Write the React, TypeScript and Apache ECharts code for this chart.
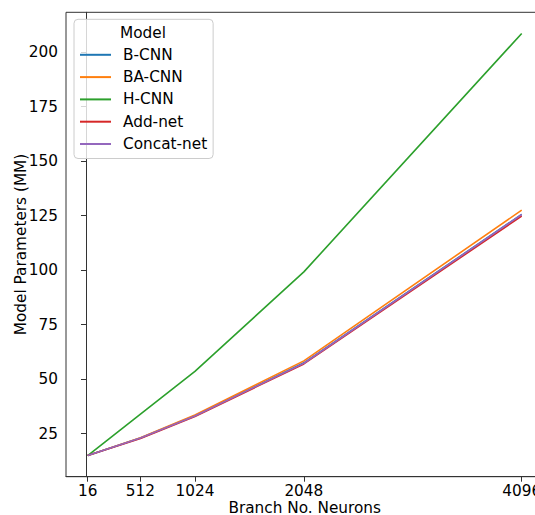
import React, { useEffect, useRef } from "react";
import * as echarts from "echarts";

const neurons = [16, 512, 1024, 2048, 4096];
const seriesNames = ["B-CNN", "BA-CNN", "H-CNN", "Add-net", "Concat-net"];
const bCnn = [15, 23, 33.2, 57.5, 125.6];
const baCnn = [15, 23.2, 33.6, 58.4, 127.5];
const hCnn = [15, 34, 53.6, 99.2, 208.5];
const addNet = [15, 22.8, 32.9, 57.0, 124.8];
const concatNet = [15, 23, 33.1, 57.3, 125.5];
const xTicks = [16, 512, 1024, 2048, 4096];
const yTicks = [25, 50, 75, 100, 125, 150, 175, 200];
const colors = ["#1f77b4", "#ff7f0e", "#2ca02c", "#d62728", "#9467bd"];

const FONT = "DejaVu Sans";
const FS = 15.3;

export default function App() {
  const ref = useRef<HTMLDivElement>(null);
  useEffect(() => {
    if (!ref.current) return;
    const chart = echarts.init(ref.current, null, { renderer: "svg" });
    const all = [bCnn, baCnn, hCnn, addNet, concatNet];
    chart.setOption({
      animation: false,
      backgroundColor: "#fff",
      textStyle: { fontFamily: FONT },
      grid: {
        show: true,
        left: 66,
        top: 12.3,
        width: 477.4,
        height: 464.4,
        borderColor: "#333",
        borderWidth: 1,
        containLabel: false,
        outerBoundsMode: "none",
      },
      xAxis: {
        type: "value",
        min: -188,
        max: 4300,
        name: "Branch No. Neurons",
        nameLocation: "middle",
        nameGap: 23.5,
        nameMoveOverlap: false,
        nameTextStyle: { fontSize: FS, color: "#000", fontFamily: FONT },
        axisLine: { show: true, lineStyle: { color: "#333", width: 1 } },
        axisTick: {
          show: true,
          length: 5,
          customValues: xTicks,
          lineStyle: { color: "#333", width: 1 },
        },
        axisLabel: {
          customValues: xTicks,
          fontSize: FS,
          color: "#000",
          fontFamily: FONT,
          margin: 7,
          showMinLabel: true,
          showMaxLabel: true,
          formatter: (v: number) => String(v),
        },
        splitLine: { show: false },
      },
      yAxis: {
        type: "value",
        min: 5.3,
        max: 218.2,
        name: "Model Parameters (MM)",
        nameLocation: "middle",
        nameGap: 38,
        nameMoveOverlap: false,
        nameTextStyle: { fontSize: FS, color: "#000", fontFamily: FONT },
        axisLine: { show: true, lineStyle: { color: "#333", width: 1 } },
        axisTick: {
          show: true,
          length: 5,
          customValues: yTicks,
          lineStyle: { color: "#333", width: 1 },
        },
        axisLabel: {
          customValues: yTicks,
          fontSize: FS,
          color: "#000",
          fontFamily: FONT,
          margin: 8,
          formatter: (v: number) => String(v),
        },
        splitLine: { show: false },
      },
      legend: {
        orient: "vertical",
        left: 74,
        top: 19.3,
        padding: [28, 6, 7, 6],
        itemWidth: 31,
        itemHeight: 16,
        itemGap: 7.3,
        icon: "path://M0,0 L31,0 L31,2 L0,2 Z",
        backgroundColor: "rgba(255,255,255,0.8)",
        borderColor: "#cccccc",
        borderWidth: 1,
        borderRadius: 4,
        textStyle: {
          fontSize: FS,
          color: "#000",
          fontFamily: FONT,
          padding: [0, 0, 0, 7],
        },
        data: seriesNames,
      },
      graphic: [
        {
          type: "text",
          z: 100,
          x: 143,
          y: 32.5,
          style: {
            text: "Model",
            fontSize: FS,
            fontFamily: FONT,
            fill: "#000",
            textAlign: "center",
            textVerticalAlign: "middle",
          },
        },
      ],
      series: seriesNames.map((name, i) => ({
        name,
        type: "line",
        data: neurons.map((n, j) => [n, all[i][j]]),
        symbol: "none",
        showSymbol: false,
        color: colors[i],
        lineStyle: { color: colors[i], width: 1.6 },
        z: 2 + i,
      })),
    });
    return () => chart.dispose();
  }, []);
  return (
    <div
      ref={ref}
      style={{ position: "fixed", left: 0, top: 0, width: 535, height: 515 }}
    />
  );
}
